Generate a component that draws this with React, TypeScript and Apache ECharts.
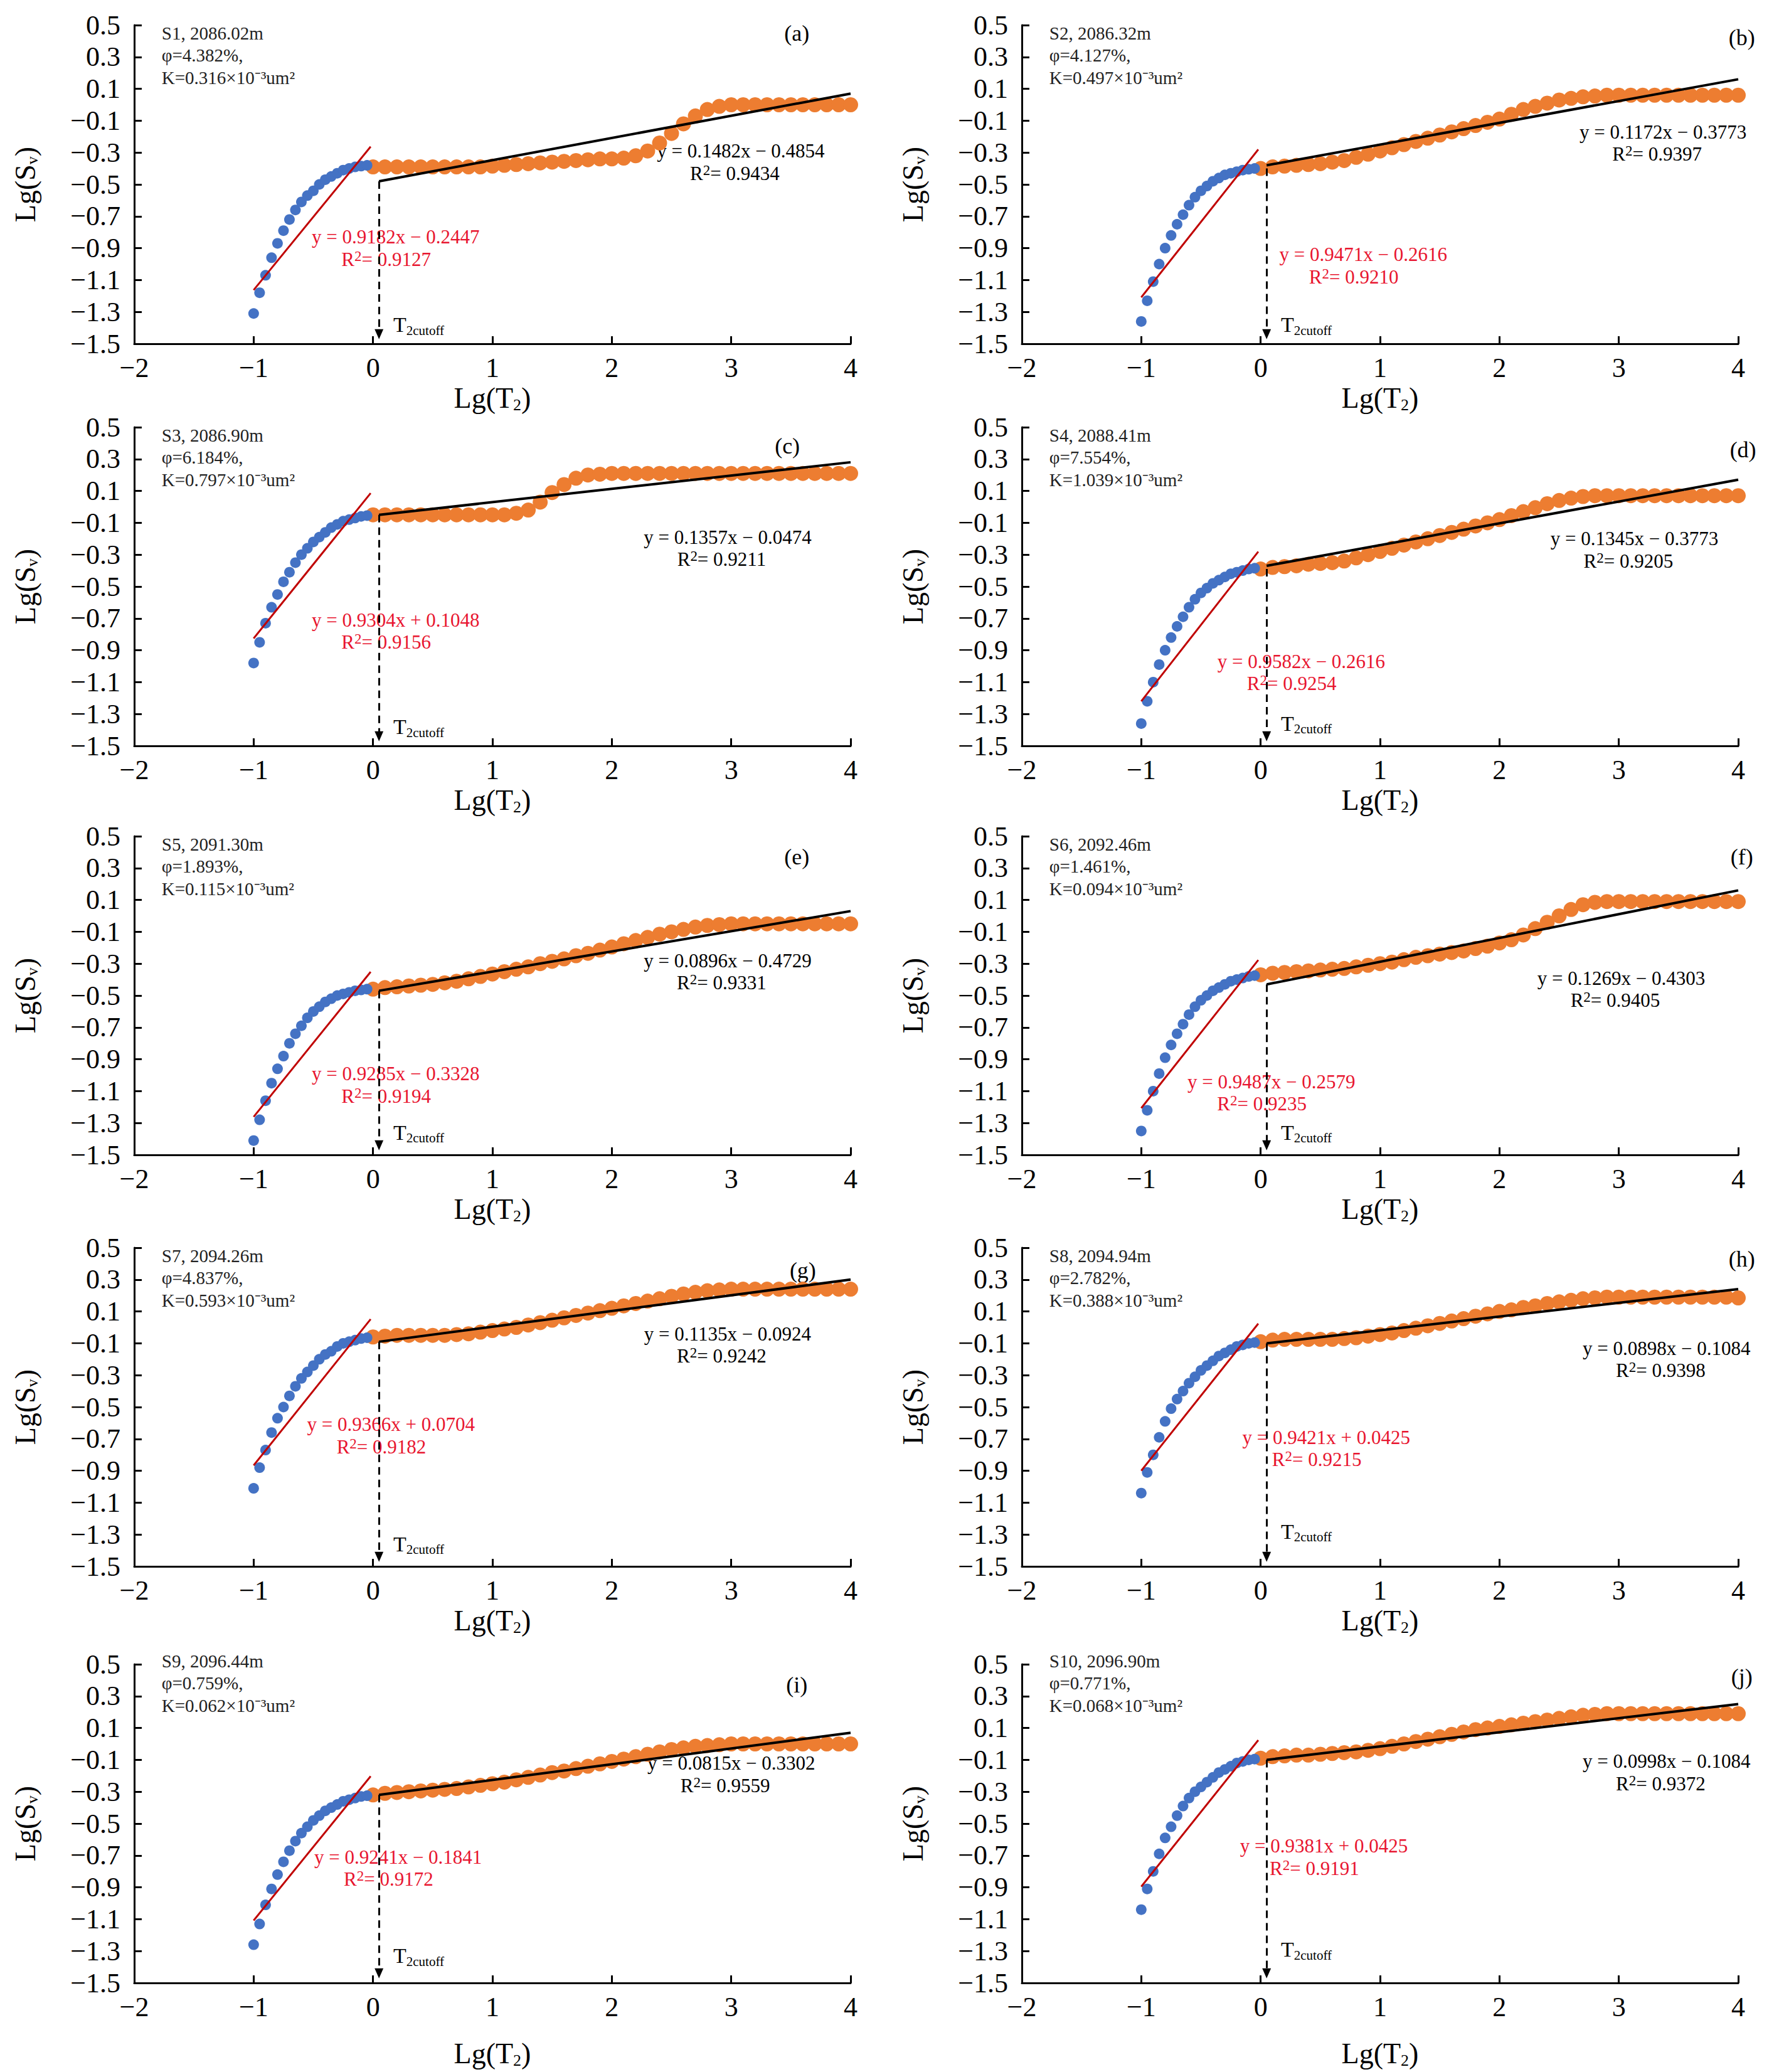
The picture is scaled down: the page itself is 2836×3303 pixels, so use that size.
import React, { useEffect, useRef } from "react";
import * as echarts from "echarts";

// x positions shared by every panel
const BLUE_X = [-1, -0.95, -0.9, -0.85, -0.8, -0.75, -0.7, -0.65, -0.6, -0.55, -0.5, -0.45, -0.4, -0.35, -0.3, -0.25, -0.2, -0.15, -0.1, -0.05];
const ORANGE_X = [0, 0.1, 0.2, 0.3, 0.4, 0.5, 0.6, 0.7, 0.8, 0.9, 1, 1.1, 1.2, 1.3, 1.4, 1.5, 1.6, 1.7, 1.8, 1.9, 2, 2.1, 2.2, 2.3, 2.4, 2.5, 2.6, 2.7, 2.8, 2.9, 3, 3.1, 3.2, 3.3, 3.4, 3.5, 3.6, 3.7, 3.8, 3.9, 4];

const PANEL_TAGS = ["(a)", "(b)", "(c)", "(d)", "(e)", "(f)", "(g)", "(h)", "(i)", "(j)"];
const SAMPLES = ["S1, 2086.02m", "S2, 2086.32m", "S3, 2086.90m", "S4, 2088.41m", "S5, 2091.30m", "S6, 2092.46m", "S7, 2094.26m", "S8, 2094.94m", "S9, 2096.44m", "S10, 2096.90m"];
const POROSITY = ["φ=4.382%,", "φ=4.127%,", "φ=6.184%,", "φ=7.554%,", "φ=1.893%,", "φ=1.461%,", "φ=4.837%,", "φ=2.782%,", "φ=0.759%,", "φ=0.771%,"];
const PERM = ["0.316", "0.497", "0.797", "1.039", "0.115", "0.094", "0.593", "0.388", "0.062", "0.068"];

// fitted lines: small-pore (red) and large-pore (black)
const RED_K = [0.9182, 0.9471, 0.9304, 0.9582, 0.9285, 0.9487, 0.9366, 0.9421, 0.9241, 0.9381];
const RED_B = [-0.2447, -0.2616, 0.1048, -0.2616, -0.3328, -0.2579, 0.0704, 0.0425, -0.1841, 0.0425];
const RED_R2 = ["0.9127", "0.9210", "0.9156", "0.9254", "0.9194", "0.9235", "0.9182", "0.9215", "0.9172", "0.9191"];
const BLACK_K = [0.1482, 0.1172, 0.1357, 0.1345, 0.0896, 0.1269, 0.1135, 0.0898, 0.0815, 0.0998];
const BLACK_B = [-0.4854, -0.3773, -0.0474, -0.3773, -0.4729, -0.4303, -0.0924, -0.1084, -0.3302, -0.1084];
const BLACK_R2 = ["0.9434", "0.9397", "0.9211", "0.9205", "0.9331", "0.9405", "0.9242", "0.9398", "0.9559", "0.9372"];
// black line as drawn in the figure: y at x = 0.05 and at x = 4
const BLACK_START = [-0.48, -0.38, -0.05, -0.37, -0.47, -0.43, -0.09, -0.1, -0.32, -0.1];
const BLACK_END = [0.07, 0.16, 0.28, 0.17, 0.03, 0.16, 0.3, 0.24, 0.07, 0.25];

const BLUE_Y = [
  [-1.31, -1.18, -1.07, -0.96, -0.87, -0.79, -0.72, -0.66, -0.61, -0.57, -0.54, -0.5, -0.47, -0.45, -0.43, -0.41, -0.4, -0.39, -0.385, -0.38],
  [-1.36, -1.23, -1.11, -1.0, -0.9, -0.82, -0.75, -0.69, -0.63, -0.58, -0.54, -0.51, -0.48, -0.46, -0.44, -0.43, -0.42, -0.41, -0.405, -0.4],
  [-0.98, -0.85, -0.73, -0.63, -0.55, -0.47, -0.41, -0.35, -0.3, -0.26, -0.22, -0.19, -0.16, -0.13, -0.11, -0.09, -0.08, -0.07, -0.06, -0.055],
  [-1.36, -1.22, -1.1, -0.99, -0.9, -0.82, -0.75, -0.69, -0.63, -0.58, -0.54, -0.51, -0.48, -0.46, -0.44, -0.42, -0.41, -0.4, -0.39, -0.385],
  [-1.41, -1.28, -1.16, -1.05, -0.96, -0.88, -0.8, -0.74, -0.69, -0.64, -0.6, -0.57, -0.54, -0.52, -0.5, -0.49, -0.48, -0.47, -0.465, -0.46],
  [-1.35, -1.22, -1.1, -0.99, -0.89, -0.81, -0.74, -0.68, -0.62, -0.57, -0.53, -0.5, -0.47, -0.45, -0.43, -0.41, -0.4, -0.39, -0.38, -0.375],
  [-1.01, -0.88, -0.77, -0.66, -0.57, -0.5, -0.43, -0.37, -0.32, -0.28, -0.24, -0.2, -0.17, -0.15, -0.12, -0.1, -0.09, -0.08, -0.07, -0.065],
  [-1.04, -0.91, -0.8, -0.69, -0.59, -0.51, -0.45, -0.4, -0.35, -0.31, -0.27, -0.24, -0.21, -0.18, -0.16, -0.14, -0.12, -0.11, -0.1, -0.095],
  [-1.26, -1.13, -1.01, -0.91, -0.82, -0.74, -0.67, -0.61, -0.56, -0.52, -0.48, -0.45, -0.42, -0.4, -0.38, -0.36, -0.35, -0.34, -0.33, -0.325],
  [-1.04, -0.91, -0.8, -0.69, -0.59, -0.52, -0.45, -0.39, -0.34, -0.3, -0.27, -0.24, -0.21, -0.18, -0.16, -0.14, -0.12, -0.11, -0.1, -0.095],
];

const ORANGE_Y = [
  [-0.39, -0.39, -0.39, -0.39, -0.39, -0.39, -0.39, -0.39, -0.39, -0.39, -0.385, -0.38, -0.375, -0.37, -0.365, -0.36, -0.355, -0.35, -0.345, -0.34, -0.34,
    -0.335, -0.32, -0.29, -0.24, -0.18, -0.12, -0.07, -0.03, -0.01, 0.0, 0, 0, 0, 0, 0, 0, 0, 0, 0, 0],
  [-0.4, -0.39, -0.385, -0.38, -0.375, -0.37, -0.36, -0.35, -0.33, -0.31, -0.29, -0.27, -0.25, -0.23, -0.21, -0.19, -0.17, -0.15, -0.13, -0.11, -0.09,
    -0.06, -0.03, -0.01, 0.01, 0.03, 0.04, 0.05, 0.055, 0.06, 0.06, 0.06, 0.06, 0.06, 0.06, 0.06, 0.06, 0.06, 0.06, 0.06, 0.06],
  [-0.05, -0.05, -0.05, -0.05, -0.05, -0.05, -0.05, -0.05, -0.05, -0.05, -0.05, -0.05, -0.04, -0.02, 0.03, 0.09, 0.14, 0.18, 0.2, 0.205, 0.21,
    0.21, 0.21, 0.21, 0.21, 0.21, 0.21, 0.21, 0.21, 0.21, 0.21, 0.21, 0.21, 0.21, 0.21, 0.21, 0.21, 0.21, 0.21, 0.21, 0.21],
  [-0.39, -0.38, -0.375, -0.37, -0.36, -0.355, -0.35, -0.34, -0.32, -0.3, -0.28, -0.26, -0.24, -0.22, -0.2, -0.18, -0.16, -0.14, -0.12, -0.1, -0.08,
    -0.055, -0.03, -0.005, 0.02, 0.04, 0.055, 0.065, 0.07, 0.07, 0.07, 0.07, 0.07, 0.07, 0.07, 0.07, 0.07, 0.07, 0.07, 0.07, 0.07],
  [-0.46, -0.45, -0.445, -0.44, -0.435, -0.43, -0.42, -0.41, -0.395, -0.38, -0.365, -0.35, -0.335, -0.32, -0.3, -0.285, -0.27, -0.25, -0.235, -0.215, -0.195,
    -0.175, -0.155, -0.135, -0.115, -0.1, -0.085, -0.07, -0.06, -0.055, -0.05, -0.05, -0.05, -0.05, -0.05, -0.05, -0.05, -0.05, -0.05, -0.05, -0.05],
  [-0.37, -0.36, -0.355, -0.35, -0.345, -0.34, -0.335, -0.33, -0.32, -0.31, -0.3, -0.29, -0.275, -0.26, -0.25, -0.24, -0.23, -0.22, -0.205, -0.19, -0.17,
    -0.15, -0.12, -0.08, -0.04, 0.0, 0.04, 0.07, 0.085, 0.09, 0.09, 0.09, 0.09, 0.09, 0.09, 0.09, 0.09, 0.09, 0.09, 0.09, 0.09],
  [-0.06, -0.055, -0.05, -0.05, -0.05, -0.05, -0.05, -0.045, -0.04, -0.03, -0.02, -0.01, 0.0, 0.015, 0.03, 0.045, 0.06, 0.075, 0.09, 0.105, 0.12,
    0.135, 0.15, 0.165, 0.18, 0.195, 0.21, 0.22, 0.23, 0.235, 0.24, 0.24, 0.24, 0.24, 0.24, 0.24, 0.24, 0.24, 0.24, 0.24, 0.24],
  [-0.09, -0.08, -0.075, -0.075, -0.075, -0.075, -0.075, -0.07, -0.065, -0.055, -0.045, -0.035, -0.02, -0.005, 0.01, 0.025, 0.04, 0.055, 0.07, 0.085, 0.1,
    0.11, 0.125, 0.135, 0.15, 0.16, 0.17, 0.18, 0.185, 0.19, 0.19, 0.19, 0.19, 0.19, 0.19, 0.19, 0.19, 0.19, 0.19, 0.19, 0.185],
  [-0.32, -0.31, -0.305, -0.3, -0.295, -0.29, -0.285, -0.28, -0.27, -0.26, -0.25, -0.24, -0.225, -0.21, -0.195, -0.18, -0.17, -0.155, -0.14, -0.125, -0.11,
    -0.095, -0.08, -0.065, -0.05, -0.035, -0.025, -0.015, -0.01, -0.005, 0.0, 0, 0, 0, 0, 0, 0, 0, 0, 0, 0],
  [-0.09, -0.08, -0.075, -0.07, -0.07, -0.065, -0.06, -0.055, -0.05, -0.04, -0.03, -0.015, 0.0, 0.015, 0.03, 0.045, 0.06, 0.075, 0.09, 0.1, 0.11,
    0.12, 0.13, 0.14, 0.15, 0.16, 0.17, 0.18, 0.185, 0.19, 0.19, 0.19, 0.19, 0.19, 0.19, 0.19, 0.19, 0.19, 0.19, 0.19, 0.19],
];

// layout (pixels) and annotation anchors (data coords)
const W = 2836;
const H = 3303;
const GRID_LEFT = [214, 1629];
const GRID_TOP = [40, 681, 1333, 1989, 2653];
const GRID_W = 1142;
const GRID_H = 508;
const Y_SHIFT = 1.5; // y axis drawn as 0..2 so ticks land on -1.5, -1.3, ... 0.5
const CUTOFF_X = 0.05;
const ARROW_END = -1.44;
const T2_LABEL_Y = [-1.38, -1.38, -1.38, -1.36, -1.36, -1.36, -1.36, -1.28, -1.33, -1.29];
const TAG_POS = [[3.55, 0.45], [4.03, 0.42], [3.47, 0.38], [4.04, 0.36], [3.55, 0.37], [4.03, 0.37], [3.6, 0.36], [4.03, 0.43], [3.55, 0.37], [4.03, 0.42]];
const BLACK_LBL = [[3.08, -0.29], [3.37, -0.17], [2.97, -0.19], [3.13, -0.2], [2.97, -0.28], [3.02, -0.39], [2.97, -0.04], [3.4, -0.13], [3.0, -0.12], [3.4, -0.11]];
const RED_LBL = [[0.19, -0.83], [0.86, -0.94], [0.19, -0.71], [0.34, -0.97], [0.19, -0.99], [0.09, -1.04], [0.15, -0.61], [0.55, -0.69], [0.21, -0.71], [0.53, -0.64]];
const R2_DY = 0.14;

const FONT = "'Liberation Serif', 'Times New Roman', serif";

function fmtNum(v: number, d: number) {
  const s = Math.abs(v).toFixed(d);
  return v < -1e-9 ? "−" + s : s;
}

function gridPos(i: number) {
  return { left: GRID_LEFT[i % 2], top: GRID_TOP[Math.floor(i / 2)] };
}

function toPx(i: number, x: number, y: number): [number, number] {
  const g = gridPos(i);
  return [g.left + ((x + 2) / 6) * GRID_W, g.top + ((0.5 - y) / 2) * GRID_H];
}

export default function App() {
  const ref = useRef<HTMLDivElement>(null);

  useEffect(() => {
    document.body.style.margin = "0";
    if (!ref.current) return;
    const chart = echarts.init(ref.current, undefined, { renderer: "svg" });

    const grid: any[] = [];
    const xAxis: any[] = [];
    const yAxis: any[] = [];
    const series: any[] = [];
    const graphic: any[] = [];

    for (let i = 0; i < 10; i++) {
      const g = gridPos(i);
      const lastRow = i >= 8;
      grid.push({ left: g.left, top: g.top, width: GRID_W, height: GRID_H, containLabel: false });
      xAxis.push({
        gridIndex: i, type: "value", min: -2, max: 4, interval: 1,
        name: "Lg(T{s|2})", nameLocation: "middle", nameGap: lastRow ? 88 : 62,
        nameTextStyle: { fontSize: 46, fontFamily: FONT, color: "#000", rich: { s: { fontSize: 26, fontFamily: FONT, padding: [22, 0, 0, 0] } } },
        axisLine: { show: true, onZero: false, lineStyle: { color: "#000", width: 3 } },
        axisTick: { show: true, inside: true, length: 12, lineStyle: { color: "#000", width: 3 } },
        axisLabel: { fontSize: 44, fontFamily: FONT, color: "#000", margin: 16, formatter: (v: number) => fmtNum(v, 0) },
        splitLine: { show: false },
      });
      yAxis.push({
        gridIndex: i, type: "value", min: 0, max: 2, interval: 0.2,
        name: "Lg(S{s|v})", nameLocation: "middle", nameGap: 150, nameRotate: 90,
        nameTextStyle: { fontSize: 46, fontFamily: FONT, color: "#000", rich: { s: { fontSize: 26, fontFamily: FONT, padding: [22, 0, 0, 0] } } },
        axisLine: { show: true, onZero: false, lineStyle: { color: "#000", width: 3 } },
        axisTick: { show: true, inside: true, length: 12, lineStyle: { color: "#000", width: 3 } },
        axisLabel: { fontSize: 44, fontFamily: FONT, color: "#000", margin: 22, formatter: (v: number) => fmtNum(v - Y_SHIFT, 1) },
        splitLine: { show: false },
      });

      const blue = BLUE_X.map((x, k) => [x, BLUE_Y[i][k] + Y_SHIFT]);
      const orange = ORANGE_X.map((x, k) => [x, ORANGE_Y[i][k] + Y_SHIFT]);
      const red = [-1, -0.02].map((x) => [x, RED_K[i] * x + RED_B[i] + Y_SHIFT]);
      const black = [[CUTOFF_X, BLACK_START[i] + Y_SHIFT], [4, BLACK_END[i] + Y_SHIFT]];
      const arrowTop = Math.min(ORANGE_Y[i][0], BLACK_START[i]);

      series.push(
        { type: "scatter", xAxisIndex: i, yAxisIndex: i, data: orange, symbolSize: 24, itemStyle: { color: "#ED7D31", opacity: 1 }, z: 2 },
        { type: "scatter", xAxisIndex: i, yAxisIndex: i, data: blue, symbolSize: 17, itemStyle: { color: "#4472C4", opacity: 1 }, z: 2 },
        { type: "line", xAxisIndex: i, yAxisIndex: i, data: red, showSymbol: false, lineStyle: { color: "#C00000", width: 3 }, z: 3 },
        {
          type: "line", xAxisIndex: i, yAxisIndex: i, data: black, showSymbol: false, lineStyle: { color: "#000", width: 4 }, z: 3,
          markLine: {
            silent: true, symbol: ["none", "triangle"], symbolSize: [14, 16], label: { show: false },
            lineStyle: { color: "#000", width: 3, type: [12, 8] },
            data: [[{ coord: [CUTOFF_X, arrowTop + Y_SHIFT] }, { coord: [CUTOFF_X, ARROW_END + Y_SHIFT] }]],
          },
        }
      );

      const textBase = { fontFamily: FONT, fill: "#000" };
      const infoY = lastRow ? [0.52, 0.38, 0.24] : [0.45, 0.31, 0.17];
      const infoLines = [SAMPLES[i], POROSITY[i], `K=${PERM[i]}×10⁻³um²`];
      infoLines.forEach((t, k) => {
        const [px, py] = toPx(i, -1.77, infoY[k]);
        graphic.push({ type: "text", x: px, y: py, style: { ...textBase, fill: "#222", text: t, fontSize: 29, textVerticalAlign: "middle" } });
      });
      const [tx, ty] = toPx(i, TAG_POS[i][0], TAG_POS[i][1]);
      graphic.push({ type: "text", x: tx, y: ty, style: { ...textBase, text: PANEL_TAGS[i], fontSize: 36, textAlign: "center", textVerticalAlign: "middle" } });

      const bl = BLACK_LBL[i];
      const [b1x, b1y] = toPx(i, bl[0], bl[1]);
      const [b2x, b2y] = toPx(i, bl[0] - 0.05, bl[1] - R2_DY);
      graphic.push(
        { type: "text", x: b1x, y: b1y, style: { ...textBase, text: `y = ${BLACK_K[i].toFixed(4)}x ${BLACK_B[i] < 0 ? "−" : "+"} ${Math.abs(BLACK_B[i]).toFixed(4)}`, fontSize: 31, textAlign: "center", textVerticalAlign: "middle" } },
        { type: "text", x: b2x, y: b2y, style: { ...textBase, text: `R{p|2}= ${BLACK_R2[i]}`, rich: { p: { fontSize: 23, fontFamily: FONT, fill: "#000", padding: [0, 0, 10, 0] } }, fontSize: 31, textAlign: "center", textVerticalAlign: "middle" } }
      );
      const rl = RED_LBL[i];
      const [r1x, r1y] = toPx(i, rl[0], rl[1]);
      const [r2x, r2y] = toPx(i, rl[0] - 0.08, rl[1] - R2_DY);
      const redFill = "#E8152F";
      graphic.push(
        { type: "text", x: r1x, y: r1y, style: { ...textBase, fill: redFill, text: `y = ${RED_K[i].toFixed(4)}x ${RED_B[i] < 0 ? "−" : "+"} ${Math.abs(RED_B[i]).toFixed(4)}`, fontSize: 31, textAlign: "center", textVerticalAlign: "middle" } },
        { type: "text", x: r2x, y: r2y, style: { ...textBase, fill: redFill, text: `R{p|2}= ${RED_R2[i]}`, rich: { p: { fontSize: 23, fontFamily: FONT, fill: redFill, padding: [0, 0, 10, 0] } }, fontSize: 31, textAlign: "center", textVerticalAlign: "middle" } }
      );
      const [cx, cy] = toPx(i, 0.17, T2_LABEL_Y[i]);
      graphic.push({ type: "text", x: cx, y: cy, style: { ...textBase, text: "T{s|2cutoff}", rich: { s: { fontSize: 21, fontFamily: FONT, fill: "#000", padding: [18, 0, 0, 0] } }, fontSize: 34, textVerticalAlign: "middle" } });
    }

    chart.setOption({
      animation: false,
      backgroundColor: "#fff",
      grid, xAxis, yAxis, series, graphic,
    });

    return () => chart.dispose();
  }, []);

  return <div ref={ref} style={{ width: W, height: H }} />;
}
